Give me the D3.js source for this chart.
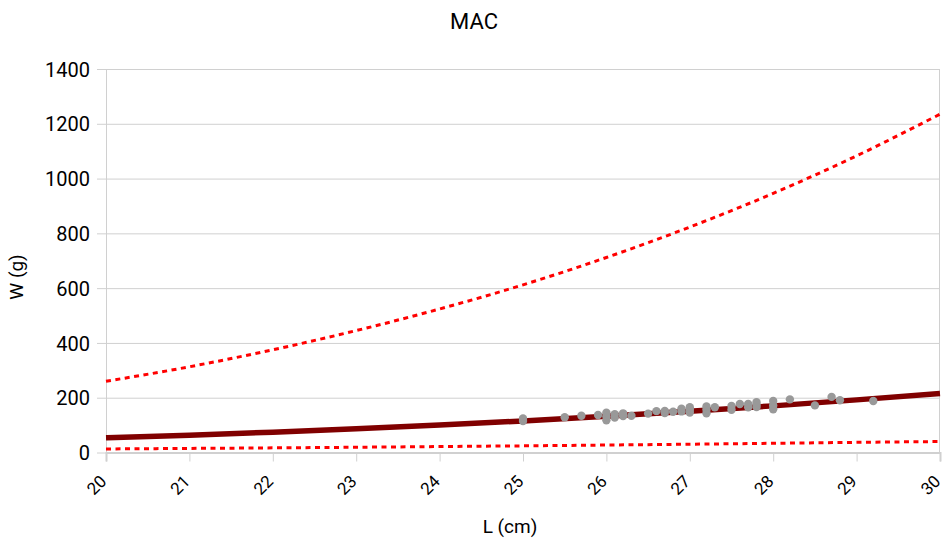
<!DOCTYPE html>
<html>
<head>
<meta charset="utf-8">
<script src="https://cdn.jsdelivr.net/npm/d3@7"></script>
<style>
  html, body { margin: 0; padding: 0; background: #fff; }
  svg { display: block; font-family: Roboto, "Liberation Sans", sans-serif; }
</style>
</head>
<body>
<svg id="chart" width="944" height="540"></svg>
<script>
// Observed length (cm) / weight (g) pairs
const obsL = [25.0, 25.0, 25.5, 25.7, 25.9, 26.0, 26.0, 26.0, 26.1, 26.1, 26.2, 26.2, 26.3,
              26.5, 26.6, 26.7, 26.7, 26.8, 26.9, 26.9, 27.0, 27.0, 27.0, 27.2, 27.2, 27.2,
              27.3, 27.5, 27.5, 27.6, 27.7, 27.7, 27.8, 27.8, 27.8, 28.0, 28.0, 28.0,
              28.2, 28.5, 28.7, 28.8, 29.2];
const obsW = [115, 124, 129, 134, 137, 118, 132, 145, 128, 140, 133, 143, 134,
              142, 151, 144, 152, 149, 150, 160, 146, 156, 165, 143, 157, 168,
              165, 156, 170, 177, 165, 177, 166, 175, 184, 158, 172, 188,
              194, 172, 203, 191, 188];

// Curves sampled at each whole centimetre
const curveL = [20, 21, 22, 23, 24, 25, 26, 27, 28, 29, 30];
const fitW   = [53.5, 63.3, 74.3, 86.5, 100.2, 115.3, 131.9, 150.2, 170.2, 192.1, 215.8];
const upperW = [260, 313, 375, 445, 524, 612, 712, 823, 946, 1083, 1235];
const lowerW = [13, 14.9, 16.9, 19.2, 21.7, 24.3, 27.2, 30.3, 33.6, 37.1, 40.0];

const xTicks = [20, 21, 22, 23, 24, 25, 26, 27, 28, 29, 30];
const yTicks = [0, 200, 400, 600, 800, 1000, 1200, 1400];

const chartTitle = "MAC";
const xTitle = "L (cm)";
const yTitle = "W (g)";

const svg = d3.select("#chart");
const W = 944, H = 540;
const m = { left: 106, right: 4, top: 69, bottom: 87.5 };
const iw = W - m.left - m.right, ih = H - m.top - m.bottom;

const x = d3.scaleLinear().domain([20, 30]).range([m.left, m.left + iw]);
const y = d3.scaleLinear().domain([0, 1400]).range([m.top + ih, m.top]);

const gridCol = "#d0d0d0";

// horizontal grid + y ticks
const yAxis = d3.axisLeft(y).tickValues(yTicks).tickSize(9).tickPadding(7).tickFormat(d3.format("d"));
const gy = svg.append("g").attr("transform", `translate(${m.left},0)`).call(yAxis);
gy.select(".domain").remove();
gy.selectAll(".tick line").attr("stroke", gridCol);
gy.selectAll(".tick text").attr("font-size", 20).attr("fill", "#000")
  .attr("font-family", "Roboto").attr("dy", "0.355em");

svg.append("g").selectAll("line").data(yTicks.filter(d => d > 0)).join("line")
  .attr("x1", m.left).attr("x2", m.left + iw)
  .attr("y1", d => y(d) + 0.5).attr("y2", d => y(d) + 0.5)
  .attr("stroke", gridCol).attr("stroke-width", 1);

// left and right frame lines
svg.append("line").attr("x1", m.left + 0.5).attr("x2", m.left + 0.5)
  .attr("y1", m.top).attr("y2", m.top + ih).attr("stroke", gridCol);
svg.append("line").attr("x1", m.left + iw - 0.5).attr("x2", m.left + iw - 0.5)
  .attr("y1", m.top).attr("y2", m.top + ih).attr("stroke", gridCol);

// x axis
const xAxis = d3.axisBottom(x).tickValues(xTicks).tickSize(9).tickFormat(d3.format("d"));
const gx = svg.append("g").attr("transform", `translate(0,${m.top + ih})`).call(xAxis);
gx.select(".domain").attr("stroke", gridCol).attr("stroke-width", 2);
gx.selectAll(".tick line").attr("stroke", gridCol);
gx.selectAll(".tick text")
  .attr("font-size", 17).attr("fill", "#000").attr("font-family", "Roboto")
  .attr("text-anchor", "end").attr("y", 0).attr("dy", 0)
  .attr("transform", "translate(1,30) rotate(-45)");

// curves
const line = vals => d3.line().curve(d3.curveMonotoneX)
  .x((d, i) => x(curveL[i])).y(d => y(d))(vals);

svg.append("path").attr("d", line(upperW)).attr("fill", "none")
  .attr("stroke", "#ff0000").attr("stroke-width", 3).attr("stroke-dasharray", "5,4.5");
svg.append("path").attr("d", line(lowerW)).attr("fill", "none")
  .attr("stroke", "#ff0000").attr("stroke-width", 3).attr("stroke-dasharray", "5,4.5");
svg.append("path").attr("d", line(fitW)).attr("fill", "none")
  .attr("stroke", "#800000").attr("stroke-width", 5.5);

// observations
svg.append("g").selectAll("circle").data(obsL).join("circle")
  .attr("cx", d => x(d)).attr("cy", (d, i) => y(obsW[i]))
  .attr("r", 4.2).attr("fill", "#999999");

// titles
svg.append("text").attr("x", 474).attr("y", 29).attr("text-anchor", "middle")
  .attr("font-size", 22).attr("fill", "#000").text(chartTitle);
svg.append("text").attr("x", 510).attr("y", 533).attr("text-anchor", "middle")
  .attr("font-size", 19).attr("fill", "#000").text(xTitle);
svg.append("text").attr("transform", "translate(23,277) rotate(-90)").attr("text-anchor", "middle")
  .attr("font-size", 19).attr("fill", "#000").text(yTitle);
</script>
</body>
</html>
